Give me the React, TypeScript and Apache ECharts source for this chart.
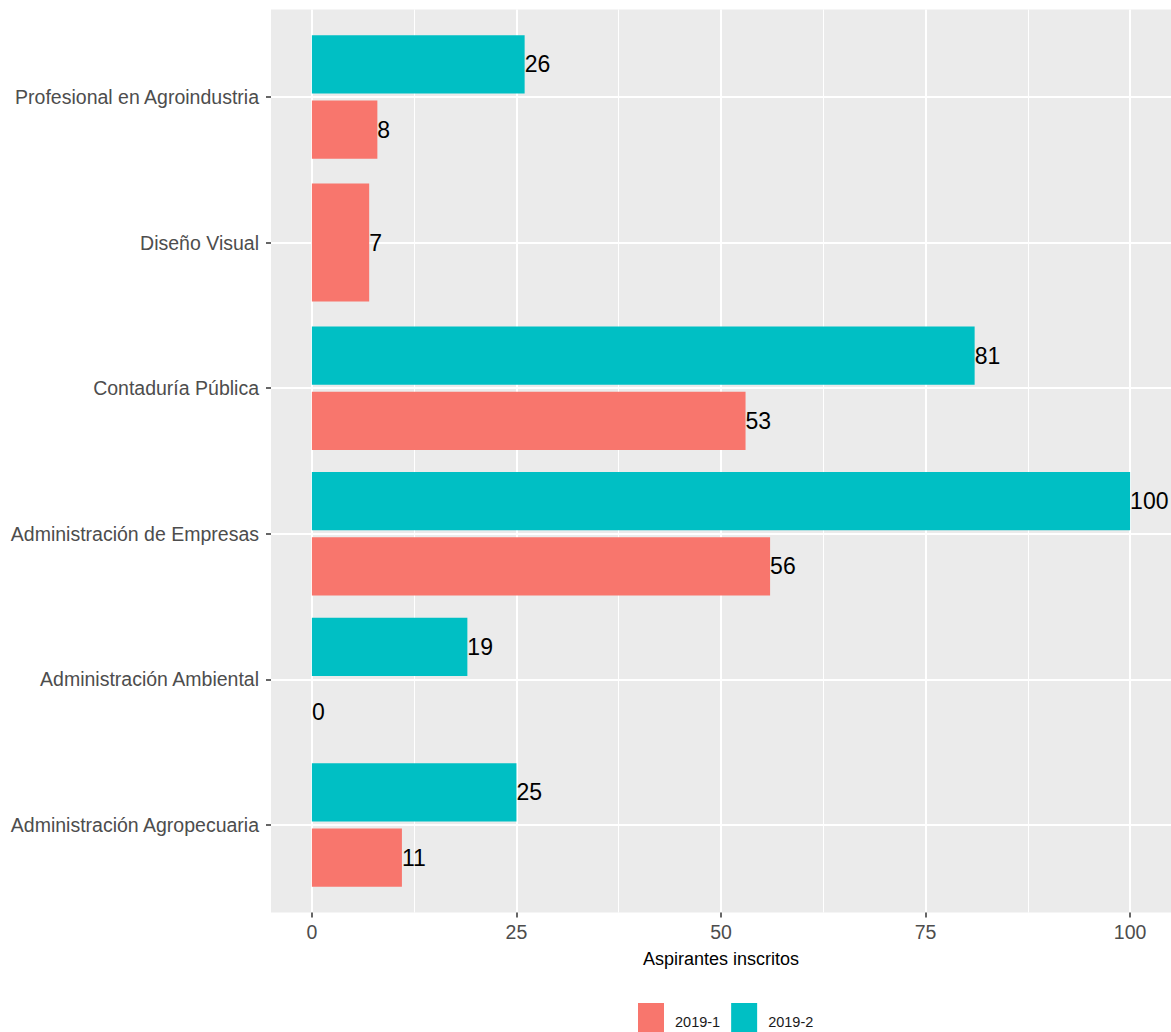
import React, { useEffect, useRef } from 'react';
import * as echarts from 'echarts';

const categories = [
  'Administración Agropecuaria',
  'Administración Ambiental',
  'Administración de Empresas',
  'Contaduría Pública',
  'Diseño Visual',
  'Profesional en Agroindustria',
];
const values2019_1: (number | null)[] = [11, 0, 56, 53, 7, 8];
const values2019_2: (number | null)[] = [25, 19, 100, 81, null, 26];
const seriesNames = ['2019-1', '2019-2'];
const xMajorTicks = [0, 25, 50, 75, 100];
const xMinorTicks = [12.5, 37.5, 62.5, 87.5];
const xTitle = 'Aspirantes inscritos';

const FONT = '"Liberation Sans", Arial, Helvetica, sans-serif';
const COLORS = ['#F8766D', '#00BFC4'];

const PANEL_LEFT = 271;
const PANEL_TOP = 9.5;
const PANEL_W = 900;
const PANEL_H = 903;
const UNIT = PANEL_H / 6.2;

function buildOption() {
  const dodged1 = values2019_1.map((v, i) => (values2019_2[i] == null ? null : v));
  const dodged2 = values2019_2.map((v, i) => (values2019_1[i] == null ? null : v));
  const single1 = values2019_1.map((v, i) => (values2019_2[i] == null ? v : null));
  const single2 = values2019_2.map((v, i) => (values2019_1[i] == null ? v : null));

  const label = {
    show: true,
    position: 'right',
    distance: 0,
    color: '#000',
    fontSize: 23,
    fontFamily: FONT,
    formatter: (p: any) => (p.value == null ? '' : String(p.value)),
  };

  const barW = UNIT * 0.4;
  const gapPx = 7;
  const singleW = UNIT * 0.81;

  const series: any[] = [
    {
      name: seriesNames[1],
      type: 'bar',
      xAxisIndex: 2,
      yAxisIndex: 1,
      data: dodged2,
      barWidth: barW,
      barGap: `${((gapPx / barW) * 100).toFixed(1)}%`,
      itemStyle: { color: COLORS[1] },
      label,
      z: 3,
    },
    {
      name: seriesNames[0],
      type: 'bar',
      xAxisIndex: 2,
      yAxisIndex: 1,
      data: dodged1,
      barWidth: barW,
      barGap: `${((gapPx / barW) * 100).toFixed(1)}%`,
      itemStyle: { color: COLORS[0] },
      label,
      z: 3,
    },
  ];
  if (single1.some((v) => v != null)) {
    series.push({
      name: seriesNames[0],
      type: 'bar',
      xAxisIndex: 2,
      yAxisIndex: 2,
      data: single1,
      barWidth: singleW,
      itemStyle: { color: COLORS[0] },
      label,
      z: 3,
    });
  }
  if (single2.some((v) => v != null)) {
    series.push({
      name: seriesNames[1],
      type: 'bar',
      xAxisIndex: 2,
      yAxisIndex: 3,
      data: single2,
      barWidth: singleW,
      itemStyle: { color: COLORS[1] },
      label,
      z: 3,
    });
  }

  return {
    animation: false,
    textStyle: { fontFamily: FONT },
    legend: {
      data: seriesNames,
      left: 638,
      top: 1003,
      padding: 0,
      itemWidth: 26,
      itemHeight: 38,
      itemGap: 11,
      icon: 'rect',
      textStyle: { fontSize: 14.5, color: '#1a1a1a', fontFamily: FONT, padding: [0, 0, 0, 6] },
    },
    grid: [
      {
        left: PANEL_LEFT,
        top: PANEL_TOP,
        width: PANEL_W,
        height: PANEL_H,
        show: true,
        backgroundColor: '#EBEBEB',
        borderWidth: 0,
      },
      {
        left: PANEL_LEFT,
        top: PANEL_TOP + 0.1 * UNIT,
        width: PANEL_W,
        height: 6 * UNIT,
        show: false,
      },
    ],
    xAxis: [
      {
        type: 'value',
        gridIndex: 0,
        min: -5,
        max: 105,
        position: 'bottom',
        axisLine: { show: false, onZero: false },
        axisTick: { show: true, length: 5, lineStyle: { color: '#333', width: 1.5 }, customValues: xMajorTicks },
        axisLabel: { customValues: xMajorTicks, color: '#4D4D4D', fontSize: 19.5, margin: 9, fontFamily: FONT },
        splitLine: { show: true, lineStyle: { color: '#FFFFFF', width: 2 } },
        name: xTitle,
        nameLocation: 'middle',
        nameGap: 37,
        nameTextStyle: { color: '#000', fontSize: 18, fontFamily: FONT },
      },
      {
        type: 'value',
        gridIndex: 0,
        min: -5,
        max: 105,
        position: 'top',
        axisLine: { show: false, onZero: false },
        axisTick: { show: false, customValues: xMinorTicks },
        axisLabel: { show: false, customValues: xMinorTicks },
        splitLine: { show: true, lineStyle: { color: '#FFFFFF', width: 1 } },
      },
      {
        type: 'value',
        gridIndex: 1,
        min: -5,
        max: 105,
        show: false,
        axisLine: { onZero: false },
      },
    ],
    yAxis: [
      {
        type: 'value',
        gridIndex: 0,
        min: -0.6,
        max: 5.6,
        axisLine: { show: false, onZero: false },
        axisTick: { show: false, customValues: categories.map((_, i) => i) },
        axisLabel: { show: false, customValues: categories.map((_, i) => i) },
        splitLine: { show: true, lineStyle: { color: '#FFFFFF', width: 2 } },
      },
      {
        type: 'category',
        gridIndex: 1,
        data: categories,
        axisLine: { show: false, onZero: false },
        axisTick: { show: true, alignWithLabel: true, length: 5, lineStyle: { color: '#333', width: 1.5 } },
        axisLabel: { color: '#4D4D4D', fontSize: 19.5, margin: 12, fontFamily: FONT },
        splitLine: { show: false },
      },
      {
        type: 'category',
        gridIndex: 1,
        data: categories,
        show: false,
        axisLine: { onZero: false },
      },
      {
        type: 'category',
        gridIndex: 1,
        data: categories,
        show: false,
        axisLine: { onZero: false },
      },
    ],
    series,
  };
}

export default function App() {
  const ref = useRef<HTMLDivElement>(null);
  useEffect(() => {
    document.body.style.margin = '0';
    const chart = echarts.init(ref.current!, null, { renderer: 'svg' });
    chart.setOption(buildOption() as any);
    return () => chart.dispose();
  }, []);
  return <div ref={ref} style={{ width: 1171, height: 1032 }} />;
}
